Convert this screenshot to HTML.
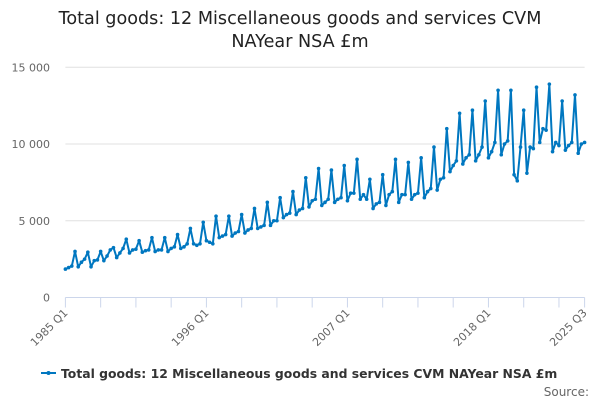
<!DOCTYPE html>
<html><head><meta charset="utf-8"><style>
body{margin:0;background:#fff;font-family:"DejaVu Sans","Liberation Sans",sans-serif;}
svg{display:block}
</style></head><body>
<svg id="chart" width="600" height="400">
<text x="300" y="24" text-anchor="middle" font-size="17.6" fill="#222">Total goods: 12 Miscellaneous goods and services CVM</text>
<text x="300" y="47" text-anchor="middle" font-size="17.6" fill="#222">NAYear NSA £m</text>
<g id="grid"></g><g id="xaxis"></g><g id="series"></g>
<g>
<line x1="41" y1="373" x2="56" y2="373" stroke="#0077c0" stroke-width="2"/><circle cx="48.5" cy="373" r="2" fill="#0077c0"/>
<text x="61" y="378" font-size="12.4" font-weight="bold" fill="#333">Total goods: 12 Miscellaneous goods and services CVM NAYear NSA £m</text>
</g>
<text x="589" y="396" text-anchor="end" font-size="12" fill="#666">Source:</text>
</svg>
<script>
const yTicks=[0,5000,10000,15000];
const yTickLabels=["0","5 000","10 000","15 000"];
const xTickIdx=[0,44,88,132,162];
const xTickLabels=["1985 Q1","1996 Q1","2007 Q1","2018 Q1","2025 Q3"];
const values=[
1850,1950,2050,3000, 2000,2300,2500,2950, 2000,2400,2450,3000, 2400,2700,3100,3250,
2600,2900,3200,3800, 2900,3100,3150,3700, 2950,3050,3100,3900, 3000,3100,3100,3900,
3000,3200,3300,4100, 3200,3300,3500,4500, 3500,3400,3500,4900, 3700,3600,3500,5300,
3900,4000,4100,5300, 4000,4200,4300,5400, 4200,4400,4500,5800, 4500,4600,4700,6200,
4700,5000,5000,6500, 5200,5400,5500,6900, 5400,5700,5800,7800, 5900,6300,6400,8400,
6000,6200,6400,8300, 6200,6400,6500,8600, 6300,6800,6800,9000, 6400,6700,6400,7700,
5800,6100,6200,8000, 6000,6700,6900,9000, 6200,6700,6700,8800, 6400,6700,6800,9100,
6500,6900,7100,9800, 7000,7700,7800,11000, 8200,8600,8900,12000, 8700,9100,9300,12200,
8900,9300,9800,12800, 9100,9500,10100,13500, 9300,10000,10200,13500, 8000,7600,9800,12200,
8100,9800,9700,13700, 10100,11000,10900,13900, 9500,10100,9900,12800, 9600,9900,10100,13200,
9400,10000,10100
];
const X0=65.4,X1=584.6,Y0=297.5,PXK=15.35;
const xs=i=>X0+(X1-X0)*i/(values.length-1);
const ys=v=>Y0-v/1000*PXK;
const NS="http://www.w3.org/2000/svg";
function mk(t,a,p){const e=document.createElementNS(NS,t);for(const k in a)e.setAttribute(k,a[k]);p.appendChild(e);return e;}
const grid=document.getElementById('grid'),xa=document.getElementById('xaxis'),ser=document.getElementById('series');
yTicks.forEach((v,i)=>{
 if(v>0){const l=mk('line',{x1:X0,x2:X1,y1:ys(v),y2:ys(v),stroke:'#e0e0e0','stroke-width':1},grid);
 
 }
 const t=mk('text',{x:50,y:ys(v)+4,'text-anchor':'end','font-size':11,fill:'#666'},grid);
 
 
 t.textContent=yTickLabels[i];
});
const ax=mk('line',{x1:X0,x2:X1,y1:Y0,y2:Y0,stroke:'#ccd6eb','stroke-width':1},xa);


for(let i=0;i<values.length;i+=11){const m=mk('line',{x1:xs(i),x2:xs(i),y1:Y0,y2:Y0+10,stroke:'#ccd6eb'},xa);
 
 }
mk('line',{x1:xs(162),x2:xs(162),y1:Y0,y2:Y0+10,stroke:'#ccd6eb'},xa);
xTickIdx.forEach((q,i)=>{
 const x=xs(q),y=Y0+16;
 const t=mk('text',{x:x+3,y:y,'text-anchor':'end','font-size':11,fill:'#666',transform:`rotate(-45 ${x+3} ${y})`},xa);
 
 
 t.textContent=xTickLabels[i];
});
const pl=mk('polyline',{points:values.map((v,i)=>xs(i)+','+ys(v)).join(' '),fill:'none',stroke:'#0077c0','stroke-width':2,'stroke-linejoin':'round'},ser);


values.forEach((v,i)=>{const c=mk('circle',{cx:xs(i),cy:ys(v),r:1.8,fill:'#0077c0'},ser);
 
 });
</script>
</body></html>
